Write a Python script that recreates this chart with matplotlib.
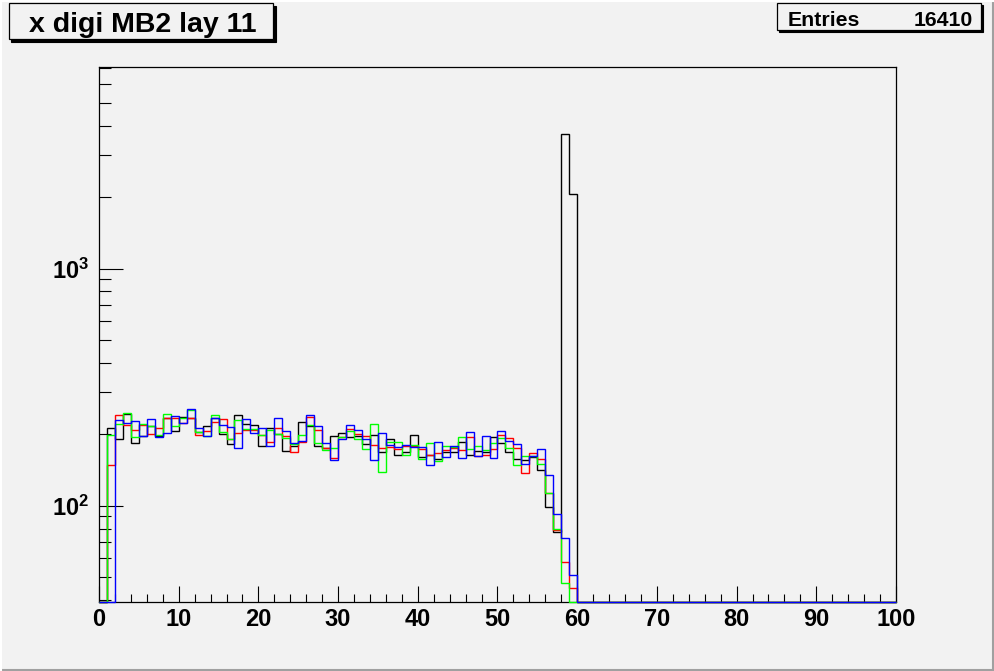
import numpy as np
import matplotlib
matplotlib.use("Agg")
import matplotlib.pyplot as plt
from matplotlib.patches import Rectangle
from matplotlib.lines import Line2D
from matplotlib.ticker import NullFormatter

# ---------------- data ----------------
title = "x digi MB2 lay 11"
entries_label = "Entries"
entries_value = "16410"

n_bins = 100
x_min, x_max = 0, 100

black_vals = [0, 212, 191, 244, 184, 197, 217, 197, 234, 207,
              236, 234, 205, 217, 234, 201, 182, 241, 221, 219,
              178, 212, 200, 170, 178, 225, 217, 178, 175, 197,
              202, 195, 197, 182, 198, 168, 190, 163, 169, 198,
              160, 164, 157, 168, 168, 186, 163, 170, 168, 194,
              183, 168, 157, 155, 160, 141, 99, 77, 3700, 2066]
red_vals = [0, 148, 241, 219, 208, 219, 201, 212, 233, 234,
            223, 234, 199, 206, 226, 232, 191, 203, 208, 208,
            198, 186, 212, 197, 168, 186, 236, 208, 175, 159,
            195, 211, 201, 197, 180, 175, 177, 173, 178, 178,
            173, 163, 166, 171, 175, 171, 194, 162, 164, 173,
            198, 192, 175, 137, 167, 157, 113, 79, 58, 45]
green_vals = [0, 199, 221, 245, 195, 221, 216, 199, 244, 216,
              234, 253, 205, 197, 241, 205, 191, 230, 211, 211,
              198, 208, 200, 193, 182, 198, 219, 184, 171, 175,
              195, 207, 190, 173, 221, 139, 185, 185, 163, 180,
              157, 183, 154, 178, 176, 194, 173, 178, 171, 183,
              192, 175, 148, 162, 162, 150, 113, 80, 47, 0]
blue_vals = [0, 0, 230, 223, 227, 196, 232, 195, 203, 239,
             222, 256, 212, 197, 234, 218, 215, 175, 232, 203,
             212, 179, 234, 206, 184, 187, 241, 217, 184, 156,
             191, 218, 209, 191, 155, 203, 180, 176, 180, 176,
             176, 149, 185, 160, 178, 158, 204, 162, 197, 158,
             206, 188, 182, 150, 162, 174, 135, 92, 73, 51]

x_major = [0, 10, 20, 30, 40, 50, 60, 70, 80, 90, 100]
x_minor_step = 2
y_major = [100, 1000]
y_major_labels = [r"$\mathbf{10^{2}}$", r"$\mathbf{10^{3}}$"]
y_minor = [40, 50, 60, 70, 80, 90, 200, 300, 400, 500, 600, 700, 800, 900,
           2000, 3000, 4000, 5000, 6000, 7000]

# ---------------- style ----------------
plt.rcParams["font.family"] = ["Liberation Sans", "DejaVu Sans"]
plt.rcParams["font.weight"] = "bold"
plt.rcParams["mathtext.fontset"] = "custom"
plt.rcParams["mathtext.bf"] = "Liberation Sans:bold"
plt.rcParams["mathtext.rm"] = "Liberation Sans:bold"
plt.rcParams["mathtext.it"] = "Liberation Sans:bold"

W, H = 995, 671
BG = "#f2f2f2"
fig = plt.figure(figsize=(W / 100, H / 100), dpi=100, facecolor=BG)


def fx(x):
    return x / W


def fy(y):
    return 1 - y / H


ax_left, ax_right, ax_top, ax_bottom = 99, 896, 67, 602
ax = fig.add_axes([fx(ax_left), fy(ax_bottom), (ax_right - ax_left) / W,
                   (ax_bottom - ax_top) / H])
ax.set_facecolor(BG)
ax.set_yscale("log")
y_lo, y_hi = 39.2, 7080
ax.set_xlim(x_min, x_max)
ax.set_ylim(y_lo, y_hi)

edges = np.linspace(x_min, x_max, n_bins + 1)


def full(vals):
    arr = np.zeros(n_bins)
    arr[:len(vals)] = vals
    # empty bins are drawn on the bottom of the frame, as ROOT does
    return np.where(arr > 0, arr, y_lo)


for vals, col in [(black_vals, "black"), (red_vals, "#ff0000"),
                  (green_vals, "#00ff00"), (blue_vals, "#0000ff")]:
    ax.stairs(full(vals), edges, baseline=y_lo, color=col, lw=1.0,
              zorder=3, clip_on=False)

for s in ax.spines.values():
    s.set_linewidth(0.9)
    s.set_color("black")
    s.set_zorder(2)

ax.set_xticks(x_major)
ax.set_xticks(np.arange(x_min, x_max + 1, x_minor_step), minor=True)
ax.set_yticks(y_major)
ax.set_yticklabels(y_major_labels)
ax.set_yticks(y_minor, minor=True)
ax.yaxis.set_minor_formatter(NullFormatter())

ax.tick_params(axis="x", which="major", direction="in", length=11.5,
               width=0.8, labelsize=17, pad=4)
ax.tick_params(axis="x", which="minor", direction="in", length=5.8,
               width=0.8)
ax.tick_params(axis="y", which="major", direction="in", length=17.3,
               width=0.8, labelsize=17, pad=7)
ax.tick_params(axis="y", which="minor", direction="in", length=8.6,
               width=0.8)
for lab in ax.get_xticklabels() + ax.get_yticklabels():
    lab.set_fontweight("bold")

# ---------------- title box ----------------
def shadow_box(x0, y0, x1, y1, off=2.5):
    fig.patches.append(Rectangle((fx(x0 + off), fy(y1 + off)),
                                 (x1 - x0) / W, (y1 - y0) / H,
                                 transform=fig.transFigure, facecolor="black",
                                 edgecolor="black", lw=0.8, zorder=5))
    fig.patches.append(Rectangle((fx(x0), fy(y1)), (x1 - x0) / W,
                                 (y1 - y0) / H, transform=fig.transFigure,
                                 facecolor=BG, edgecolor="black", lw=0.9,
                                 zorder=6))


shadow_box(9, 3.5, 273, 39)
fig.text(fx(142.5), fy(31.5), title, ha="center", va="baseline",
         fontsize=20.5, fontweight="bold", zorder=7)

shadow_box(777, 3.5, 981, 29.5, off=2)
fig.text(fx(788), fy(25.5), entries_label, ha="left", va="baseline",
         fontsize=15.3, fontweight="bold", zorder=7)
fig.text(fx(973), fy(25.5), entries_value, ha="right", va="baseline",
         fontsize=15.3, fontweight="bold", zorder=7)

# ---------------- canvas bevel ----------------
fig.lines.append(Line2D([fx(993.5), fx(993.5)], [0, 1], transform=fig.transFigure,
                        color="#a0a0a0", lw=1.5))
fig.lines.append(Line2D([0, 1], [fy(669.5), fy(669.5)], transform=fig.transFigure,
                        color="#a0a0a0", lw=1.5))
fig.lines.append(Line2D([fx(0.5), fx(0.5)], [0, 1], transform=fig.transFigure,
                        color="white", lw=1.5))
fig.lines.append(Line2D([0, 1], [fy(0.5), fy(0.5)], transform=fig.transFigure,
                        color="white", lw=1.5))

fig.savefig("out.png", dpi=100, facecolor=BG)
